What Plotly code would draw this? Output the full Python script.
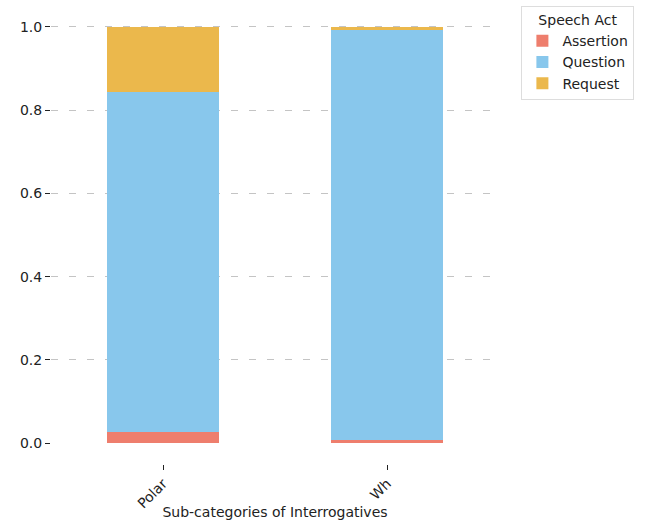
import plotly.graph_objects as go

categories = ["Polar", "Wh"]
assertion = [0.027, 0.008]
question = [0.817, 0.985]
request = [0.156, 0.007]

series_names = ["Assertion", "Question", "Request"]
colors = ["#EE7E6D", "#88C7EC", "#EBB84C"]

y_ticks = [0.0, 0.2, 0.4, 0.6, 0.8, 1.0]
y_tick_text = ["0.0", "0.2", "0.4", "0.6", "0.8", "1.0"]

font_family = "DejaVu Sans"

fig = go.Figure()
for name, vals, col in zip(series_names, [assertion, question, request], colors):
    fig.add_trace(go.Bar(x=categories, y=vals, name=name,
                         marker=dict(color=col, line=dict(width=0)), width=0.5))

# helper invisible trace for grid axis
fig.add_trace(go.Scatter(x=categories, y=[None, None], yaxis="y2", showlegend=False, hoverinfo="skip"))

fig.update_layout(
    barmode="stack",
    width=648, height=520,
    margin=dict(l=51, r=149, t=6, b=56),
    paper_bgcolor="white", plot_bgcolor="rgba(0,0,0,0)",
    font=dict(family=font_family, size=14, color="#222"),
    xaxis=dict(range=[-0.5, 1.5], tickangle=-45, ticks="outside", ticklen=5, tickwidth=1, tickcolor="#222",
               showline=False, showgrid=False, zeroline=False, automargin=False,
               title=dict(text="Sub-categories of Interrogatives", font=dict(size=14), standoff=0)),
    yaxis=dict(range=[-0.05, 1.05], tickvals=y_ticks, ticktext=y_tick_text, ticks="outside", ticklen=5,
               tickwidth=1, tickcolor="#222", showgrid=False, zeroline=False, showline=False,
               automargin=False),
    yaxis2=dict(range=[-0.05, 1.05], overlaying="y", tickvals=y_ticks[1:], showticklabels=False,
                showgrid=True, gridcolor="#c4c4c4", griddash="7px,11px", gridwidth=1, zeroline=False,
                layer="below traces", side="left", automargin=False),
    legend=dict(title=dict(text="Speech Act", side="top center", font=dict(size=14)),
                x=1.05, xanchor="left", y=1.0, yanchor="top",
                bordercolor="#dddddd", borderwidth=1, bgcolor="white",
                font=dict(size=14), traceorder="normal", itemsizing="constant"),
)

fig.write_html("out.html", config={"displayModeBar": False},
               post_script="document.body.style.margin='0';document.body.style.padding='0';")
